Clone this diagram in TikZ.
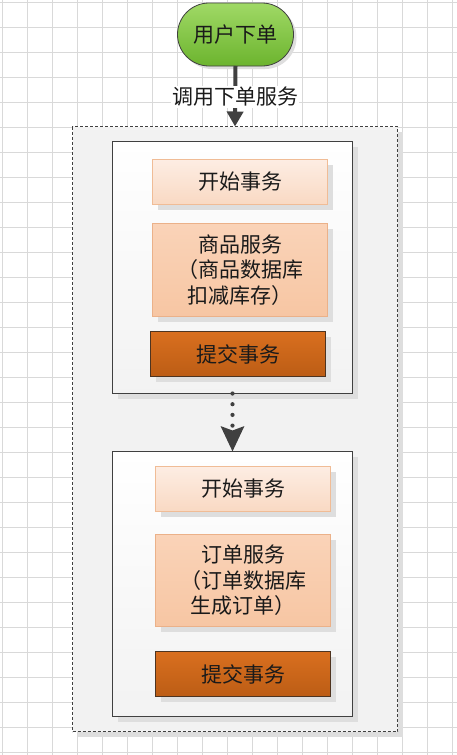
\documentclass[tikz,border=0pt]{standalone}
\usepackage{fontspec}
\newfontfamily\cjk{Noto Sans CJK SC}
\usetikzlibrary{arrows.meta,shadows}
\definecolor{gridc}{HTML}{D9D9D9}
\definecolor{edge}{HTML}{404040}
\definecolor{shad}{HTML}{DEDEDE}
\definecolor{greenT}{HTML}{A0D966}
\definecolor{greenB}{HTML}{6CB42E}
\definecolor{lpT}{HTML}{FDEDE3}
\definecolor{lpB}{HTML}{F9D9C3}
\definecolor{lpE}{HTML}{F0BC96}
\definecolor{mpT}{HTML}{FAD3B8}
\definecolor{mpB}{HTML}{F7C6A3}
\definecolor{mpE}{HTML}{EBB189}
\definecolor{doT}{HTML}{D96F1F}
\definecolor{doB}{HTML}{BC5D15}
\definecolor{doE}{HTML}{4E3420}
\definecolor{txt}{HTML}{1A1A1A}
\begin{document}
\begin{tikzpicture}[x=1pt,y=-1pt,
  every node/.style={inner sep=0pt, outer sep=0pt, text=txt,
    font=\cjk\fontsize{21}{25.5}\selectfont, align=center},
  shad/.style={general shadow={shadow xshift=5pt, shadow yshift=-5pt, fill=shad}},
  term/.style={draw=edge, line width=0.8pt, top color=greenT, bottom color=greenB,
    rounded corners=31.5pt, minimum width=116pt, minimum height=63pt,
    general shadow={shadow xshift=3pt, shadow yshift=-3pt, fill=shad}},
  outerbox/.style={draw=edge, dash pattern=on 3pt off 2pt, line width=0.9pt,
    fill=black!5, shad},
  innerbox/.style={draw=edge, line width=0.9pt, top color=white, bottom color=black!5, shad},
  lightbox/.style={draw=lpE, line width=0.6pt, top color=lpT, bottom color=lpB,
    minimum width=175pt, shad},
  medbox/.style={draw=mpE, line width=0.6pt, top color=mpT, bottom color=mpB,
    minimum width=175pt, shad},
  darkbox/.style={draw=doE, line width=0.8pt, top color=doT, bottom color=doB,
    minimum width=175pt, minimum height=45pt, shad},
  conn/.style={draw=edge, line width=4pt},
  dotconn/.style={draw=edge, line width=4.2pt, line cap=round, dash pattern=on 0pt off 10.7pt},
  lbl/.style={fill=white, inner sep=1pt}
]
\useasboundingbox (0,0) rectangle (457,755);
\fill[white] (0,0) rectangle (457,755);
\foreach \i in {0,...,18} \draw[gridc, line width=0.7pt] (2.5+25*\i,0) -- (2.5+25*\i,755);
\foreach \j in {0,...,30} \draw[gridc, line width=0.7pt] (0,2.5+25*\j) -- (457,2.5+25*\j);

\node[term] (start) at (235.5,34.5) {用户下单};

\node[outerbox, minimum width=325pt, minimum height=605pt] (outer) at (235,429) {};
\node[innerbox, minimum width=240pt, minimum height=252pt] (box1) at (232.5,267.5) {};
\node[innerbox, minimum width=240pt, minimum height=265pt] (box2) at (232.5,584) {};

\node[lightbox, minimum height=45pt] (b1a) at (240,182) {开始事务};
\node[medbox, minimum height=93pt] (b1b) at (240,270) {商品服务\\（商品数据库\\扣减库存）};
\node[darkbox] (b1c) at (238,354) {提交事务};

\node[lightbox, minimum height=45pt] (b2a) at (243,489) {开始事务};
\node[medbox, minimum height=92pt] (b2b) at (243,580.5) {订单服务\\（订单数据库\\生成订单）};
\node[darkbox] (b2c) at (243,674) {提交事务};

\draw[conn, -{Triangle[width=16pt,length=15pt]}] (start.south) -- (outer.north)
  node[lbl, pos=0.51] (callLbl) {调用下单服务};
\draw[dotconn, -{Stealth[width=23pt,length=25pt,inset=4pt]}] (box1.south) -- (box2.north);
\end{tikzpicture}
\end{document}
